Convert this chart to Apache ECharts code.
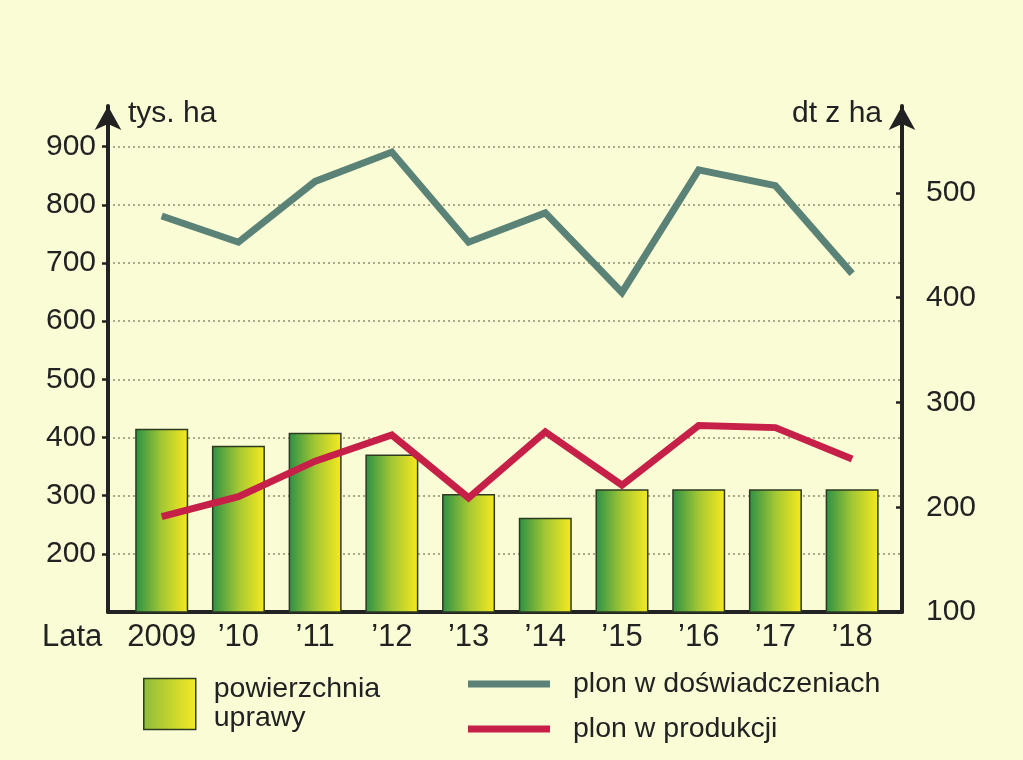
<!DOCTYPE html>
<html>
<head>
<meta charset="utf-8">
<script src="https://cdn.jsdelivr.net/npm/echarts@6/dist/echarts.min.js"></script>
<style>
html,body{margin:0;padding:0;background:#fafcd6;}
#chart{width:1023px;height:760px;}
</style>
</head>
<body>
<div id="chart"></div>
<script>
// ---- data ----
const categories = ['2009', '\u201910', '\u201911', '\u201912', '\u201913', '\u201914', '\u201915', '\u201916', '\u201917', '\u201918'];
const areaValues = [415, 386, 408, 371, 303, 262, 311, 311, 311, 311];           // tys. ha (left axis)
const yieldTrials = [478, 453, 511, 539, 453, 481, 405, 522, 507, 423];          // dt z ha (right axis)
const yieldProduction = [191, 210, 244, 269, 209, 272, 221, 278, 276, 246];      // dt z ha (right axis)
const leftTicks = [200, 300, 400, 500, 600, 700, 800, 900];
const rightTicks = [100, 200, 300, 400, 500];
const seriesNames = ['powierzchnia\nuprawy', 'plon w do\u015bwiadczeniach', 'plon w produkcji'];
const axisNames = ['tys. ha', 'dt z ha', 'Lata'];

const INK = '#222222';
const REG = "'Liberation Sans', Arial, sans-serif";

const chart = echarts.init(document.getElementById('chart'), null, {renderer: 'canvas'});

const barGradient = {type: 'linear', x: 0, y: 0, x2: 1, y2: 0, colorStops: [
  {offset: 0, color: '#2b9046'}, {offset: 0.5, color: '#a3c734'}, {offset: 1, color: '#f8ea1d'}]};
const legendGradient = {type: 'linear', x: 0, y: 0, x2: 1, y2: 0, colorStops: [
  {offset: 0, color: '#8cbc3c'}, {offset: 1, color: '#f7ea22'}]};

const option = {
  backgroundColor: '#fafcd6',
  animation: false,
  grid: {left: 108, right: 121, top: 106, bottom: 148, containLabel: false, outerBoundsMode: 'none'},
  xAxis: {
    type: 'value', min: -0.7, max: 9.65,
    axisLine: {show: true, onZero: false, lineStyle: {color: INK, width: 4}},
    axisTick: {show: false},
    splitLine: {show: false},
    axisLabel: {
      customValues: categories.map((c, i) => i),
      formatter: v => categories[Math.round(v)],
      color: INK, fontFamily: REG, fontSize: 31, margin: 10
    }
  },
  yAxis: [
    {
      type: 'value', min: 100, max: 970, interval: 100, position: 'left',
      name: axisNames[0], nameLocation: 'end', nameGap: -8,
      nameTextStyle: {color: INK, fontFamily: REG, fontSize: 30, align: 'left', verticalAlign: 'middle', padding: [0, 0, 0, 20]},
      axisLine: {show: true, onZero: false, lineStyle: {color: INK, width: 4}, symbol: ['none', 'arrow'], symbolSize: [20, 24]},
      axisTick: {show: true, inside: false, length: 6, customValues: leftTicks, lineStyle: {color: INK, width: 2.5}},
      axisLabel: {customValues: leftTicks, color: INK, fontFamily: REG, fontSize: 30, margin: 12},
      splitLine: {show: true, lineStyle: {color: '#8e8e74', width: 1.5, type: [2, 3]}}
    },
    {
      type: 'value', min: 100, max: 583, interval: 100, position: 'right',
      name: axisNames[1], nameLocation: 'end', nameGap: -8,
      nameTextStyle: {color: INK, fontFamily: REG, fontSize: 30, align: 'right', verticalAlign: 'middle', padding: [0, 20, 0, 0]},
      axisLine: {show: true, onZero: false, lineStyle: {color: INK, width: 4}, symbol: ['none', 'arrow'], symbolSize: [20, 24]},
      axisTick: {show: true, inside: true, length: 6, customValues: rightTicks, lineStyle: {color: INK, width: 2.5}},
      axisLabel: {customValues: rightTicks, color: INK, fontFamily: REG, fontSize: 30, margin: 24},
      splitLine: {show: false}
    }
  ],
  legend: [
    {
      data: [{name: seriesNames[0], itemStyle: {color: legendGradient, borderColor: '#2d3a22', borderWidth: 1.5}}],
      left: 143, top: 675, padding: 0, itemWidth: 52, itemHeight: 51, icon: 'rect',
      selectedMode: false,
      textStyle: {color: INK, fontFamily: REG, fontSize: 28.5, lineHeight: 29, padding: [0, 0, 0, 13]}
    },
    {
      data: [seriesNames[1], seriesNames[2]],
      orient: 'vertical', left: 463, top: 661, itemWidth: 82, itemHeight: 7, icon: 'rect', itemGap: 9,
      selectedMode: false,
      textStyle: {color: INK, fontFamily: REG, fontSize: 28.5, lineHeight: 36, padding: [0, 0, 0, 18]}
    }
  ],
  graphic: [
    {type: 'text', left: 42, top: 622, silent: true,
     style: {text: axisNames[2], fill: INK, font: '31px ' + REG}}
  ],
  series: [
    {
      name: seriesNames[0], type: 'bar', yAxisIndex: 0, barWidth: 53, z: 2,
      data: areaValues.map((v, i) => [i, v]),
      itemStyle: {color: barGradient, borderColor: '#2d3a22', borderWidth: 1.5}
    },
    {
      name: seriesNames[1], type: 'line', yAxisIndex: 1, z: 3,
      data: yieldTrials.map((v, i) => [i, v]),
      showSymbol: false, symbol: 'none',
      itemStyle: {color: '#5b8276'},
      lineStyle: {color: '#5b8276', width: 7, join: 'miter', cap: 'butt'}
    },
    {
      name: seriesNames[2], type: 'line', yAxisIndex: 1, z: 3,
      data: yieldProduction.map((v, i) => [i, v]),
      showSymbol: false, symbol: 'none',
      itemStyle: {color: '#c61f48'},
      lineStyle: {color: '#c61f48', width: 7, join: 'miter', cap: 'butt'}
    }
  ]
};
chart.setOption(option);
</script>
</body>
</html>
